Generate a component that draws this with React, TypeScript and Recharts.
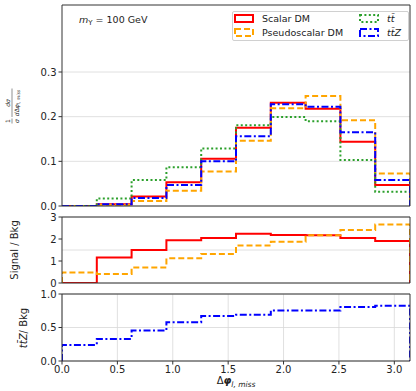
import React from "react";
import { ComposedChart, Line, XAxis, YAxis, CartesianGrid } from "recharts";

const PI = Math.PI;
const binEdges = [0, 0.3142, 0.6283, 0.9425, 1.2566, 1.5708, 1.885, 2.1991, 2.5133, 2.8274, 3.1416];
const xTicks = [0, 0.5, 1, 1.5, 2, 2.5, 3];

// normalised distributions (top panel)
const scalarDM = [0.0, 0.004, 0.021, 0.053, 0.106, 0.175, 0.231, 0.218, 0.144, 0.047];
const pseudoDM = [0.0, 0.002, 0.011, 0.034, 0.077, 0.146, 0.219, 0.246, 0.192, 0.073];
const ttbar = [0.0, 0.017, 0.058, 0.087, 0.129, 0.181, 0.199, 0.19, 0.103, 0.032];
const ttZ = [0.0, 0.004, 0.018, 0.047, 0.1, 0.156, 0.228, 0.222, 0.165, 0.058];

// ratio panels
const scalarOverBkg = [0.0, 1.16, 1.5, 1.94, 2.04, 2.24, 2.18, 2.17, 2.04, 1.91];
const pseudoOverBkg = [0.48, 0.41, 0.71, 1.12, 1.32, 1.7, 1.88, 2.17, 2.41, 2.66];
const ttZOverBkg = [0.24, 0.33, 0.455, 0.58, 0.67, 0.69, 0.755, 0.755, 0.805, 0.825];

const topTicks = [0, 0.1, 0.2, 0.3];
const midTicks = [0, 1, 2, 3];
const midGrid = [0, 0.5, 1, 1.5, 2, 2.5, 3];
const botTicks = [0, 0.5, 1];
const botGrid = [0, 0.25, 0.5, 0.75, 1];

const styles: Record<string, { color: string; dash?: string }> = {
  scalar: { color: "#ff0000" },
  pseudo: { color: "#ffa500", dash: "6 3" },
  tt: { color: "#2ca02c", dash: "2 2.4" },
  ttz: { color: "#0000ff", dash: "7 2.5 2 2.5" },
};

// histogram outline: rise at first edge, drop back to 0 at last edge
function stepRows(series: Record<string, number[]>) {
  const keys = Object.keys(series);
  const row = (x: number, f: (k: string) => number) => {
    const r: Record<string, number> = { x };
    keys.forEach((k) => (r[k] = f(k)));
    return r;
  };
  const rows = [row(binEdges[0], () => 0)];
  for (let i = 0; i < 10; i++) rows.push(row(binEdges[i], (k) => series[k][i]));
  rows.push(row(binEdges[10], (k) => series[k][9]));
  rows.push(row(binEdges[10], () => 0));
  return rows;
}

const topData = stepRows({ scalar: scalarDM, pseudo: pseudoDM, tt: ttbar, ttz: ttZ });
const midData = stepRows({ scalar: scalarOverBkg, pseudo: pseudoOverBkg });
const botData = stepRows({ ttz: ttZOverBkg });

const font = "DejaVu Sans";
const tickStyle = { fontSize: 10, fill: "#222", fontFamily: font };
const axisStroke = { stroke: "#333" };

function Panel(props: {
  top: number;
  height: number;
  data: Record<string, number>[];
  keys: string[];
  yMax: number;
  yTicks: number[];
  yGrid: number[];
  fmt: (v: number) => string;
  showX: boolean;
  xHeight: number;
}) {
  const { top, height, data, keys, yMax, yTicks, yGrid, fmt, showX, xHeight } = props;
  return (
    <div style={{ position: "absolute", left: 0, top, width: 416, height }}>
      <ComposedChart width={416} height={height} data={data} margin={{ top: 4, right: 5, bottom: 0, left: 22 }}>
        <CartesianGrid stroke="#d8d8d8" strokeWidth={0.8} horizontalValues={yGrid} verticalValues={xTicks} />
        <XAxis
          dataKey="x"
          type="number"
          domain={[0, PI]}
          ticks={xTicks}
          allowDataOverflow
          height={xHeight}
          tick={showX ? tickStyle : false}
          tickFormatter={(v: number) => v.toFixed(1)}
          tickSize={3.5}
          tickMargin={1}
          axisLine={axisStroke}
          tickLine={axisStroke}
        />
        <XAxis xAxisId="t" orientation="top" type="number" domain={[0, PI]} height={1} tick={false} tickLine={false} axisLine={axisStroke} />
        <YAxis
          type="number"
          domain={[0, yMax]}
          ticks={yTicks}
          allowDataOverflow
          width={40}
          tick={tickStyle}
          tickFormatter={fmt}
          tickSize={3.5}
          tickMargin={2}
          axisLine={axisStroke}
          tickLine={axisStroke}
        />
        <YAxis yAxisId="r" orientation="right" type="number" domain={[0, 1]} width={1} tick={false} tickLine={false} axisLine={axisStroke} />
        {keys.map((k) => (
          <Line
            key={k}
            dataKey={k}
            type="stepAfter"
            stroke={styles[k].color}
            strokeDasharray={styles[k].dash}
            strokeWidth={2}
            dot={false}
            activeDot={false}
            isAnimationActive={false}
          />
        ))}
      </ComposedChart>
    </div>
  );
}

const legendItems = [
  { key: "scalar", label: "Scalar DM", col: 0, row: 0, italic: false },
  { key: "pseudo", label: "Pseudoscalar DM", col: 0, row: 1, italic: false },
  { key: "tt", label: "tt\u0304", col: 1, row: 0, italic: true },
  { key: "ttz", label: "tt\u0304Z", col: 1, row: 1, italic: true },
];

export default function App() {
  return (
    <div style={{ position: "fixed", left: 0, top: 0, width: 416, height: 391, background: "#fff", fontFamily: font }}>
      <Panel top={0} height={216} data={topData} keys={["scalar", "pseudo", "tt", "ttz"]} yMax={0.45} yTicks={topTicks} yGrid={topTicks} fmt={(v) => v.toFixed(1)} showX={false} xHeight={10} />
      <Panel top={212} height={81} data={midData} keys={["scalar", "pseudo"]} yMax={3} yTicks={midTicks} yGrid={midGrid} fmt={(v) => String(v)} showX={false} xHeight={10} />
      <Panel top={289} height={102} data={botData} keys={["ttz"]} yMax={1} yTicks={botTicks} yGrid={botGrid} fmt={(v) => v.toFixed(1)} showX={true} xHeight={30} />

      <div
        style={{
          position: "absolute",
          left: 232,
          top: 11,
          width: 177,
          height: 30,
          border: "1px solid #d0d0d0",
          borderRadius: 2,
          background: "rgba(255,255,255,0.85)",
          boxSizing: "border-box",
        }}
      >
        {legendItems.map((it) => (
          <div
            key={it.key}
            style={{ position: "absolute", left: it.col ? 126 : 1, top: it.row ? 14 : 0, height: 13, display: "flex", alignItems: "center" }}
          >
            <svg width={20} height={9}>
              <rect x={1} y={1} width={18} height={7} fill="none" stroke={styles[it.key].color} strokeWidth={2} strokeDasharray={styles[it.key].dash} />
            </svg>
            <span style={{ marginLeft: 8, fontSize: 9.5, color: "#222", fontStyle: it.italic ? "italic" : "normal" }}>{it.label}</span>
          </div>
        ))}
      </div>

      <svg width={416} height={391} style={{ position: "absolute", left: 0, top: 0, pointerEvents: "none" }} fontFamily={font} fill="#222">
        <text x={79} y={23} fontSize={9.5}>
          <tspan fontStyle="italic">m</tspan>
          <tspan fontSize={7} dy={2}>Υ</tspan>
          <tspan dy={-2}> = 100 GeV</tspan>
        </text>

        <g transform="translate(12,106) rotate(-90)">
          <text x={-15} y={-2} fontSize={6} textAnchor="middle">1</text>
          <line x1={-17.5} x2={-12.5} y1={0} y2={0} stroke="#222" strokeWidth={0.5} />
          <text x={-15} y={6.5} fontSize={6} textAnchor="middle" fontStyle="italic">σ</text>
          <text x={3} y={-2} fontSize={6} textAnchor="middle" fontStyle="italic">dσ</text>
          <line x1={-11} x2={17.5} y1={0} y2={0} stroke="#222" strokeWidth={0.5} />
          <text x={3} y={6.5} fontSize={6} textAnchor="middle">
            <tspan fontStyle="italic">d</tspan>
            <tspan>Δ</tspan>
            <tspan fontStyle="italic">φ</tspan>
            <tspan fontSize={4.5} dy={1.2} fontStyle="italic">l, miss</tspan>
          </text>
        </g>

        <text transform="translate(18,250) rotate(-90)" fontSize={10} textAnchor="middle">Signal / Bkg</text>
        <text transform="translate(27,328) rotate(-90)" fontSize={10} textAnchor="middle">
          <tspan fontStyle="italic">tt̄Z</tspan>
          <tspan>/ Bkg</tspan>
        </text>

        <text x={236} y={384} fontSize={10} textAnchor="middle">
          <tspan>Δ</tspan>
          <tspan fontStyle="italic" fontWeight="bold">φ</tspan>
          <tspan fontSize={7.5} dy={2.5} fontStyle="italic">l, miss</tspan>
        </text>
      </svg>
    </div>
  );
}
